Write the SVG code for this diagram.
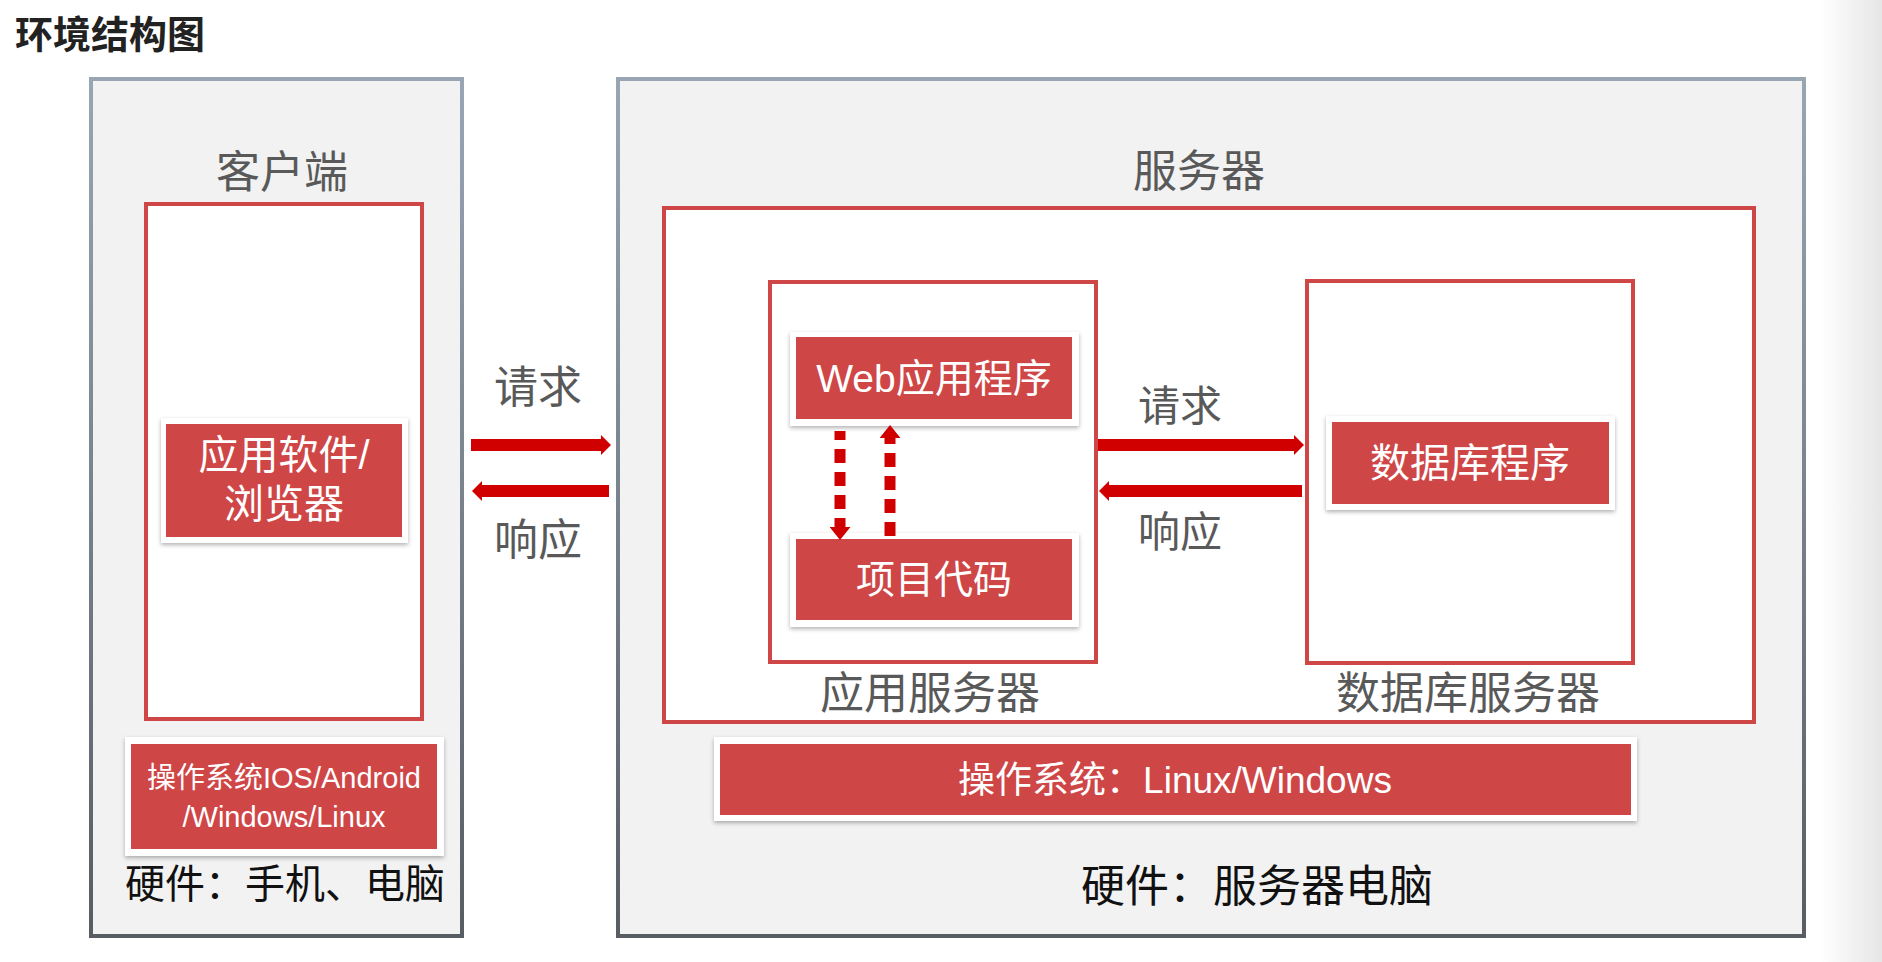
<svg xmlns="http://www.w3.org/2000/svg" width="1882" height="962" viewBox="0 0 1882 962">
<defs>
<linearGradient id="frameStroke" x1="0" y1="0" x2="0" y2="1">
<stop offset="0" stop-color="#98a6b4"/>
<stop offset="1" stop-color="#585c63"/>
</linearGradient>
<linearGradient id="edgeShade" x1="0" y1="0" x2="1" y2="0">
<stop offset="0" stop-color="#ffffff"/>
<stop offset="1" stop-color="#e6e6e6"/>
</linearGradient>
<filter id="shadow" x="-10%" y="-20%" width="120%" height="150%">
<feDropShadow dx="0" dy="2" stdDeviation="2" flood-color="#000" flood-opacity="0.3"/>
</filter>
<marker id="headSolid" viewBox="0 0 10 20" markerWidth="10" markerHeight="20" markerUnits="userSpaceOnUse" refX="0" refY="10" orient="auto">
<path d="M0,0 L10,10 L0,20 Z" fill="#d00000"/>
</marker>
<marker id="headDash" viewBox="0 0 13 21" markerWidth="13" markerHeight="21" markerUnits="userSpaceOnUse" refX="0" refY="10.5" orient="auto">
<path d="M0,0 L13,10.5 L0,21 Z" fill="#d00000"/>
</marker>
<style>
.frame{fill:#f2f2f2;stroke:url(#frameStroke);stroke-width:4}
.redbox{fill:#ffffff;stroke:#cf4647;stroke-width:4}
.card{fill:#ffffff;filter:url(#shadow)}
.cardfill{fill:#cf4647}
.t{font-family:"Liberation Sans","Noto Sans CJK SC",sans-serif;text-anchor:middle}
.gray{fill:#595959}
.white{fill:#ffffff}
.black{fill:#111111}
.solid{stroke:#d00000;stroke-width:12;fill:none}
.dash{stroke:#d00000;stroke-width:11;fill:none;stroke-dasharray:14 9}
</style>
</defs>
<rect x="0" y="0" width="1882" height="962" fill="#ffffff"/>
<rect x="1820" y="0" width="62" height="962" fill="url(#edgeShade)"/>
<text class="t" x="15" y="48" style="text-anchor:start;font-weight:bold;font-size:38px;fill:#222222">环境结构图</text>

<g id="client">
<rect class="frame" x="91" y="79" width="371" height="857"/>
<text class="t gray" x="282" y="188" font-size="44">客户端</text>
<rect class="redbox" x="146" y="204" width="276" height="515"/>
</g>
<g id="client-app">
<rect class="card" x="161" y="418" width="247" height="125"/>
<rect class="cardfill" x="166" y="424" width="236" height="113"/>
<text class="t white" x="284" y="469" font-size="40">应用软件/</text>
<text class="t white" x="284" y="518" font-size="40">浏览器</text>
</g>
<g id="client-os">
<rect class="card" x="125" y="737" width="319" height="119"/>
<rect class="cardfill" x="131" y="744" width="306" height="105"/>
<text class="t white" x="284" y="788" font-size="29">操作系统IOS/Android</text>
<text class="t white" x="284" y="827" font-size="29">/Windows/Linux</text>
</g>
<g id="client-hw">
<text class="t black" x="285" y="898" font-size="40">硬件：手机、电脑</text>
</g>

<g id="server">
<rect class="frame" x="618" y="79" width="1186" height="857"/>
<text class="t gray" x="1199" y="187" font-size="44">服务器</text>
<rect class="redbox" x="664" y="208" width="1090" height="514"/>
</g>
<g id="app-server">
<rect class="redbox" x="770" y="282" width="326" height="380"/>
<text class="t gray" x="930" y="709" font-size="44">应用服务器</text>
</g>
<g id="web-app">
<rect class="card" x="790" y="332" width="289" height="94"/>
<rect class="cardfill" x="796" y="337" width="276" height="82"/>
<text class="t white" x="934" y="392" font-size="39">Web应用程序</text>
</g>
<g id="project-code">
<rect class="card" x="790" y="533" width="289" height="94"/>
<rect class="cardfill" x="796" y="539" width="276" height="81"/>
<text class="t white" x="934" y="593" font-size="39">项目代码</text>
</g>
<g id="db-server">
<rect class="redbox" x="1307" y="281" width="326" height="382"/>
<text class="t gray" x="1468" y="709" font-size="44">数据库服务器</text>
</g>
<g id="db-program">
<rect class="card" x="1326" y="416" width="289" height="94"/>
<rect class="cardfill" x="1332" y="422" width="277" height="82"/>
<text class="t white" x="1470" y="477" font-size="40">数据库程序</text>
</g>
<g id="server-os">
<rect class="card" x="714" y="737" width="923" height="84"/>
<rect class="cardfill" x="720" y="744" width="911" height="71"/>
<text class="t white" x="1175" y="793" font-size="37">操作系统：Linux/Windows</text>
</g>
<g id="server-hw">
<text class="t black" x="1257" y="902" font-size="44">硬件：服务器电脑</text>
</g>

<g id="connectors">
<line class="solid" x1="471" y1="445" x2="601" y2="445" marker-end="url(#headSolid)"/>
<line class="solid" x1="609" y1="491" x2="482" y2="491" marker-end="url(#headSolid)"/>
<line class="solid" x1="1098" y1="445" x2="1294" y2="445" marker-end="url(#headSolid)"/>
<line class="solid" x1="1302" y1="491" x2="1109" y2="491" marker-end="url(#headSolid)"/>
<line class="dash" x1="840" y1="431" x2="840" y2="527" stroke-dashoffset="5" marker-end="url(#headDash)"/>
<line class="dash" x1="890" y1="536" x2="890" y2="438" marker-end="url(#headDash)"/>
<text class="t gray" x="538" y="403" font-size="44">请求</text>
<text class="t gray" x="538" y="556" font-size="44">响应</text>
<text class="t gray" x="1180" y="421" font-size="42">请求</text>
<text class="t gray" x="1180" y="547" font-size="42">响应</text>
</g>
</svg>
